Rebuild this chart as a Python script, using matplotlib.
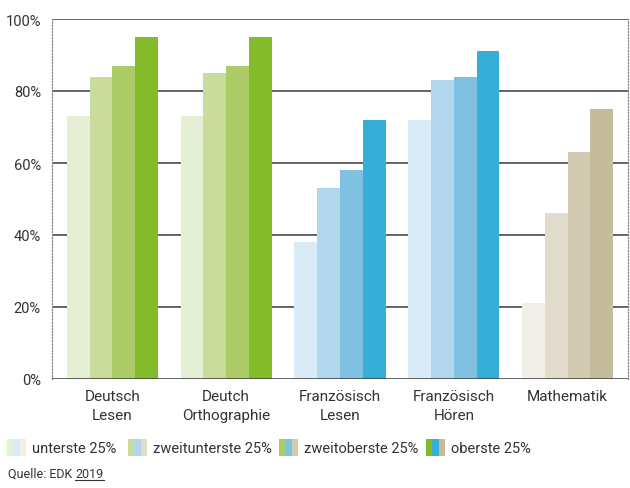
import matplotlib
matplotlib.use("Agg")
import matplotlib.pyplot as plt
from matplotlib.patches import Rectangle
import numpy as np

plt.rcParams['font.family'] = ['Roboto', 'DejaVu Sans']

categories = ["Deutsch\nLesen", "Deutch\nOrthographie", "Französisch\nLesen",
              "Französisch\nHören", "Mathematik"]
series_names = ["unterste 25%", "zweitunterste 25%", "zweitoberste 25%", "oberste 25%"]
# values per category: [unterste, zweitunterste, zweitoberste, oberste]
values = [
    [73, 84, 87, 95],
    [73, 85, 87, 95],
    [38, 53, 58, 72],
    [72, 83, 84, 91],
    [21, 46, 63, 75],
]
green = ["#e4efd3", "#cadc9c", "#abcb66", "#83bb2a"]
blue = ["#d9ebf6", "#b2d7ec", "#80c1e2", "#36aed7"]
beige = ["#f1eee7", "#e2dccc", "#d3cbb1", "#c5bc9c"]
cat_colors = [green, green, blue, blue, beige]
yticks = [0, 20, 40, 60, 80, 100]

W, H = 630, 489
fig = plt.figure(figsize=(W / 100, H / 100), dpi=100)
ax = fig.add_axes([52 / W, (H - 380) / H, (628 - 52) / W, 360 / H])

bw = 0.2
x = np.arange(len(categories))
for i, vals in enumerate(values):
    for j, v in enumerate(vals):
        ax.bar(x[i] + (j - 1.5) * bw, v, width=bw, color=cat_colors[i][j],
               linewidth=0, zorder=2)

for t in yticks:
    ax.axhline(t, color="#3a3a3a", lw=1.1, zorder=1 if t > 0 else 3)

ax.set_xlim(-0.53, len(categories) - 1 + 0.53)
ax.set_ylim(0, 100)
ax.set_yticks(yticks)
ax.set_yticklabels([f"{t}%" for t in yticks], fontsize=10.5, color="#333333")
ax.set_xticks(x)
ax.set_xticklabels(categories, fontsize=11, color="#333333", linespacing=1.45)
ax.tick_params(axis="both", length=0, pad=8)
ax.tick_params(axis="x", pad=7)
for s in ["top", "bottom"]:
    ax.spines[s].set_visible(False)
for s in ["left", "right"]:
    ax.spines[s].set_linestyle((0, (1, 1.5)))
    ax.spines[s].set_color("#888888")
    ax.spines[s].set_linewidth(0.9)

# legend: three-stripe swatches
sw_x = [7, 128, 279, 426]
for k, name in enumerate(series_names):
    x0 = sw_x[k]
    for m, pal in enumerate([green, blue, beige]):
        fig.patches.append(Rectangle(((x0 + m * 6.3) / W, (H - 457) / H), 6.3 / W, 17 / H,
                                     transform=fig.transFigure, color=pal[k], lw=0))
    fig.text((x0 + 25) / W, (H - 449) / H, name, fontsize=10.5, color="#333333",
             va="center", ha="left")

t1 = fig.text(8 / W, (H - 478) / H, "Quelle: EDK ", fontsize=9, color="#333333",
              va="baseline", ha="left")
fig.canvas.draw()
bb = t1.get_window_extent()
t2 = fig.text(bb.x1 / W, (H - 478) / H, "2019", fontsize=9, color="#333333",
              va="baseline", ha="left")
fig.canvas.draw()
bb2 = t2.get_window_extent()
fig.add_artist(plt.Line2D([bb2.x0 / W, bb2.x1 / W], [(H - 481) / H, (H - 481) / H],
                          color="#333333", lw=0.8, transform=fig.transFigure))

fig.savefig("out.png", dpi=100)
